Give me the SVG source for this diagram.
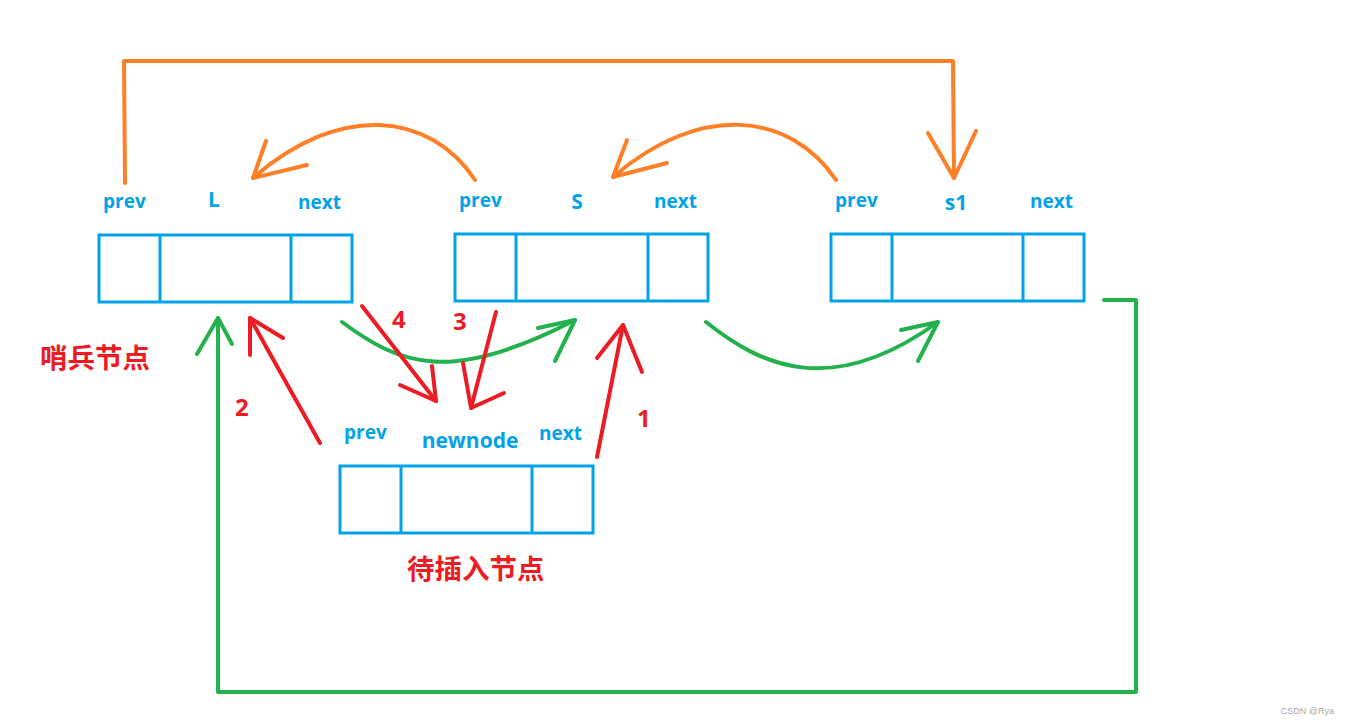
<svg xmlns="http://www.w3.org/2000/svg" width="1349" height="725" viewBox="0 0 1349 725">
<style>
.box{fill:none;stroke:#00A2E8;stroke-width:3}
.lbl{font-family:"Open Sans","Noto Sans",sans-serif;font-weight:bold;font-size:19px;fill:#00A2E8}
.name{font-family:"Open Sans","Noto Sans",sans-serif;font-weight:bold;font-size:21px;fill:#00A2E8;text-anchor:middle}
.red{font-family:"Open Sans","Noto Sans CJK SC",sans-serif;font-weight:bold;font-size:24px;fill:#ED1C24}
.cjk{font-family:"Noto Sans CJK SC",sans-serif;font-weight:bold;font-size:27.5px;fill:#ED1C24}
.o{fill:none;stroke:#FF7F27;stroke-width:4;stroke-linecap:round;stroke-linejoin:round}
.g{fill:none;stroke:#22B14C;stroke-width:4;stroke-linecap:round;stroke-linejoin:round}
.r{fill:none;stroke:#ED1C24;stroke-width:4;stroke-linecap:round;stroke-linejoin:round}
</style>
<rect width="1349" height="725" fill="#fff"/>
<g id="nodeL">
<rect class="box" x="99" y="235" width="253" height="67"/>
<line class="box" x1="160" y1="235" x2="160" y2="302"/>
<line class="box" x1="291" y1="235" x2="291" y2="302"/>
<text class="lbl" x="103" y="208">prev</text>
<text class="name" x="214" y="207">L</text>
<text class="lbl" x="298" y="209">next</text>
</g>
<g id="nodeS">
<rect class="box" x="455" y="234" width="253" height="67"/>
<line class="box" x1="516" y1="234" x2="516" y2="301"/>
<line class="box" x1="648" y1="234" x2="648" y2="301"/>
<text class="lbl" x="459" y="207">prev</text>
<text class="name" x="577" y="209">S</text>
<text class="lbl" x="654" y="208">next</text>
</g>
<g id="nodeS1">
<rect class="box" x="831" y="234" width="253" height="67"/>
<line class="box" x1="892" y1="234" x2="892" y2="301"/>
<line class="box" x1="1023" y1="234" x2="1023" y2="301"/>
<text class="lbl" x="835" y="207">prev</text>
<text class="name" x="956" y="210">s1</text>
<text class="lbl" x="1030" y="208">next</text>
</g>
<g id="newnode">
<rect class="box" x="340" y="466" width="253" height="67"/>
<line class="box" x1="401" y1="466" x2="401" y2="533"/>
<line class="box" x1="532" y1="466" x2="532" y2="533"/>
<text class="lbl" x="344" y="439">prev</text>
<text class="name" x="470" y="448">newnode</text>
<text class="lbl" x="539" y="440">next</text>
</g>
<g id="labels">
<text class="cjk" x="40" y="368">哨兵节点</text>
<text class="cjk" x="407" y="579">待插入节点</text>
<text class="red" x="392" y="328">4</text>
<text class="red" x="453" y="330">3</text>
<text class="red" x="235" y="416">2</text>
<text class="red" x="637" y="427">1</text>
<text x="1334" y="714" font-family="Liberation Sans,sans-serif" font-size="9" fill="#aaa" text-anchor="end">CSDN @Rya</text>
</g>
<g id="connectors">
<path class="o" d="M125 183 L124 61 L953 61 L954 178"/>
<path class="o" d="M928 133 L954 178 L976 131"/>
<path class="o" d="M475 180 C430 112 340 102 253 178"/>
<path class="o" d="M266 141 L253 178 L307 165"/>
<path class="o" d="M836 180 C790 112 700 102 613 177"/>
<path class="o" d="M627 140 L613 177 L667 163"/>
<path class="g" d="M1104 300 L1136 300 L1136 692 L218 692 L218 318"/>
<path class="g" d="M197 354 L218 318 L232 344"/>
<path class="g" d="M342 322 C400 365 450 385 575 320"/>
<path class="g" d="M538 328 L575 320 L555 361"/>
<path class="g" d="M706 322 C760 365 830 400 938 322"/>
<path class="g" d="M901 330 L938 322 L918 361"/>
<path class="r" d="M597 457 L623 325"/>
<path class="r" d="M597 358 L623 325 L642 372"/>
<path class="r" d="M320 443 L250 318"/>
<path class="r" d="M250 355 L250 318 L283 338"/>
<path class="r" d="M496 312 L471 408"/>
<path class="r" d="M463 363 L471 408 L504 393"/>
<path class="r" d="M362 306 L436 401"/>
<path class="r" d="M432 366 L436 401 L400 385"/>
</g>
</svg>
